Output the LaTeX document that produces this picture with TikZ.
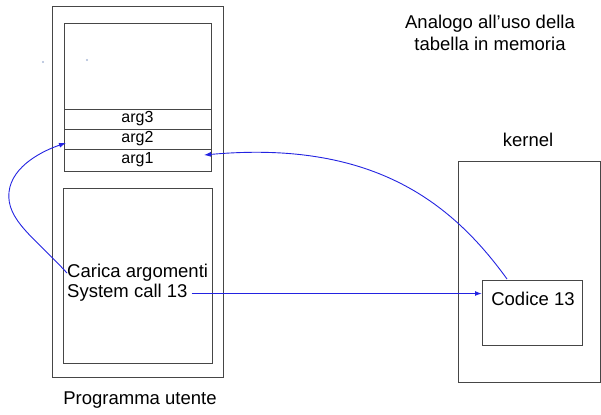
\documentclass[tikz,border=0pt]{standalone}
\usepackage{fontspec}
\setmainfont{Liberation Sans}
\usetikzlibrary{arrows.meta}
\definecolor{linegray}{RGB}{70,70,70}
\definecolor{callblue}{RGB}{35,35,225}
\definecolor{speck}{RGB}{170,185,215}
\tikzset{
  box/.style={draw=linegray, line width=1bp, inner sep=0pt, outer sep=0pt, anchor=north west},
  txt/.style={inner sep=0pt, font=\fontsize{18.5bp}{22bp}\selectfont},
  argtxt/.style={font=\fontsize{16bp}{19bp}\selectfont},
  call/.style={draw=callblue, line width=0.9bp, -{Latex[length=7bp,width=5bp]}}
}
\begin{document}
\begin{tikzpicture}[x=1bp, y=-1bp]
\useasboundingbox (0,0) rectangle (601,414);

% user program: outer frame and the two inner areas
\node[box, minimum width=171bp, minimum height=371bp] (user) at (52,6) {};
\node[box, minimum width=147bp, minimum height=148bp] (mem) at (64,23) {};
\node[box, minimum width=147bp, minimum height=20bp, argtxt] (arg3) at (64,109) {arg3};
\node[box, minimum width=147bp, minimum height=20bp, argtxt] (arg2) at (64,129) {arg2};
\node[box, minimum width=147bp, minimum height=22bp, argtxt] (arg1) at (64,149) {arg1};
\node[box, minimum width=149bp, minimum height=175bp] (code) at (63,188) {};

\node[txt, anchor=west] (carica) at (67,273) {Carica argomenti};
\node[txt, anchor=west] (sys) at (67,293) {System call 13};
\node[txt] (utente) at (140,400) {Programma utente};

% kernel side
\node[box, minimum width=142bp, minimum height=221bp] (kernel) at (458,161) {};
\node[box, minimum width=100bp, minimum height=65bp] (codice) at (482,280) {};
\node[txt] (codlab) at (533,299) {Codice 13};
\node[txt] (klab) at (528,140) {kernel};

\node[txt, align=center] (note) at (490,33) {Analogo all’uso della\\tabella in memoria};

% stray specks
\fill[speck] (43,62) circle (1.2bp);
\fill[speck] (87,60) circle (1.2bp);

% connectors
\coordinate (a2) at ([xshift=2bp, yshift=-4bp]arg2.west);
\coordinate (a1) at ([xshift=-7bp, yshift=5bp]arg1.east);
\coordinate (ctop) at ([xshift=-25bp, yshift=1bp]codice.north);
\coordinate (turn) at (9,192);
\coordinate (sysout) at ([xshift=4bp, yshift=-0.5bp]sys.east);

\draw[call] (carica.west) .. controls (35,238) and (6,220) .. (turn)
  .. controls (12,165) and (45,150) .. (a2);
\draw[call] (ctop) .. controls (450,200) and (370,140) .. (a1);
\draw[call, line width=1.3bp] (sysout) -- (sysout -| codice.west);
\end{tikzpicture}
\end{document}
